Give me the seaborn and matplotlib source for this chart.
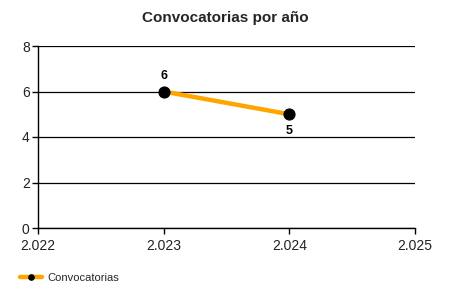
import matplotlib
matplotlib.use("Agg")
import matplotlib.pyplot as plt
import seaborn as sns
import pandas as pd

years = [2023, 2024]
values = [6, 5]
x_ticks = [2022, 2023, 2024, 2025]
x_tick_labels = ["2.022", "2.023", "2.024", "2.025"]
y_ticks = [0, 2, 4, 6, 8]
series_name = "Convocatorias"
title = "Convocatorias por año"

sns.set_style("white")
plt.rcParams['font.family'] = ['Liberation Sans', 'DejaVu Sans']

df = pd.DataFrame({"year": years, "value": values})

fig = plt.figure(figsize=(4.5, 3), dpi=100)
ax = fig.add_axes([38/450, 1-228/300, (415-38)/450, (228-46)/300])

sns.lineplot(data=df, x="year", y="value", ax=ax, color="#FFA500", linewidth=3.2,
             marker="o", markersize=8, markerfacecolor="black", markeredgecolor="black",
             label=series_name, zorder=3)

for i, (x, y) in enumerate(zip(years, values)):
    off = 11 if i == 0 else -12
    ax.annotate(str(y), (x, y), xytext=(0, off), textcoords="offset points",
                ha="center", va="center", fontsize=9, fontweight="bold", color="black")

ax.set_xlim(2022, 2025)
ax.set_ylim(0, 8)
ax.set_xticks(x_ticks)
ax.set_xticklabels(x_tick_labels)
ax.set_yticks(y_ticks)
ax.yaxis.grid(True, color="black", linewidth=0.9)
ax.set_axisbelow(True)
ax.set_xlabel("")
ax.set_ylabel("")
for s in ["top", "right"]:
    ax.spines[s].set_visible(False)
for s in ["left", "bottom"]:
    ax.spines[s].set_color("black")
    ax.spines[s].set_linewidth(1)
ax.tick_params(axis="both", which="both", direction="out", length=4, width=1,
               color="black", labelsize=10, labelcolor="#222222", left=True, bottom=True)
ax.tick_params(axis="x", pad=4)
ax.tick_params(axis="y", pad=2)

fig.suptitle(title, fontsize=11, fontweight="bold", y=1-18/300, va="center")

leg = ax.legend(loc="center left", bbox_to_anchor=(20/450, 1-278/300), bbox_transform=fig.transFigure,
                frameon=False, fontsize=8, handlelength=2.0, handletextpad=0.5,
                borderaxespad=0, borderpad=0)
for h in leg.get_lines():
    h.set_markersize(4)

fig.savefig("out.png", dpi=100)
